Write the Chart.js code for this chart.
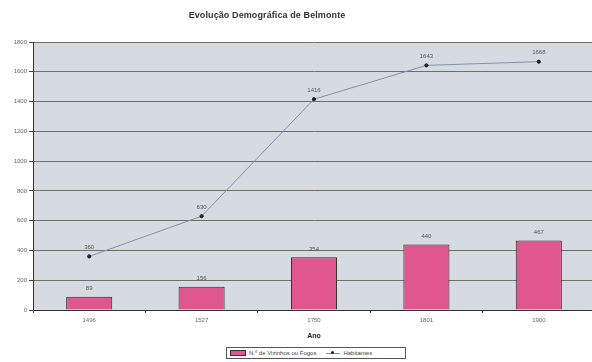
<!DOCTYPE html>
<html><head><meta charset="utf-8">
<script src="https://cdn.jsdelivr.net/npm/chart.js@4"></script>
<style>
html,body{margin:0;padding:0;background:#fff;overflow:hidden;width:592px;height:362px}
#wrap{position:relative;width:600px;height:362px}
#title{position:absolute;left:0;width:534px;top:10px;text-align:center;font:bold 9px "Liberation Sans",Arial,sans-serif;color:#333;letter-spacing:0.1px}
#legend{position:absolute;left:226px;top:347px;width:178px;height:10px;border:1px solid #555;background:#fff;font:6px "Liberation Sans",Arial,sans-serif;color:#444;display:flex;align-items:center;white-space:nowrap}
.sw{display:inline-block;width:14px;height:4px;background:#e0578f;border:1px solid #333;margin:0 3px 0 3px}
.ln{display:inline-block;position:relative;width:14px;height:1px;background:#8391a8;margin:0 3px 0 10px}
.ln:after{content:"";position:absolute;left:5px;top:-1.5px;width:3px;height:3px;background:#222;border-radius:50%}
</style></head>
<body>
<div id="wrap">
<div id="title">Evolução Demográfica de Belmonte</div>
<canvas id="c" width="600" height="362"></canvas>
<div id="legend"><span class="sw"></span><span>N.º de Vizinhos ou Fogos</span><span class="ln"></span><span>Habitantes</span></div>
</div>
<script>
const categories = ['1496', '1527', '1750', '1801', '1900'];
const fogos = [89, 156, 354, 440, 467];
const habitantes = [360, 630, 1416, 1643, 1668];
const yMax = 1800;
const yStep = 200;
const xTitle = 'Ano';
const seriesNames = ['N.º de Vizinhos ou Fogos', 'Habitantes'];

const bgPlugin = {
  id: 'bg',
  beforeDraw(chart) {
    const {ctx, chartArea: a} = chart;
    ctx.save();
    ctx.fillStyle = '#d6dbe1';
    ctx.fillRect(a.left, a.top, a.right - a.left, a.bottom - a.top);
    ctx.restore();
  }
};
const labelPlugin = {
  id: 'vlabels',
  afterDatasetsDraw(chart) {
    const ctx = chart.ctx;
    ctx.save();
    ctx.font = '6px "Liberation Sans", Arial, sans-serif';
    ctx.fillStyle = '#555';
    ctx.textAlign = 'center';
    ctx.textBaseline = 'bottom';
    chart.data.datasets.forEach((ds, i) => {
      const meta = chart.getDatasetMeta(i);
      meta.data.forEach((el, j) => {
        const off = ds.type === 'line' ? 6 : 5;
        ctx.fillText(String(ds.data[j]), el.x, el.y - off);
      });
    });
    ctx.restore();
  }
};

new Chart(document.getElementById('c'), {
  type: 'bar',
  data: {
    labels: categories,
    datasets: [
      {
        label: seriesNames[0], data: fogos, backgroundColor: '#e0578f',
        borderColor: '#2a2a2a', borderWidth: 1, barPercentage: 0.41, categoryPercentage: 1, order: 2
      },
      {
        type: 'line', label: seriesNames[1], data: habitantes, borderColor: '#8391a8',
        borderWidth: 1, pointStyle: 'circle', pointRadius: 1.6, pointBackgroundColor: '#222',
        pointBorderColor: '#222', tension: 0, fill: false, order: 1
      }
    ]
  },
  options: {
    responsive: false,
    animation: false,
    layout: {padding: {top: 42, right: 2, bottom: 18, left: 0}},
    plugins: {legend: {display: false}, tooltip: {enabled: false}, title: {display: false}},
    scales: {
      x: {
        offset: true,
        grid: {display: true, drawOnChartArea: false, offset: true, tickLength: 3, color: '#444'},
        border: {color: '#333', width: 1},
        ticks: {font: {size: 6, family: 'Liberation Sans'}, color: '#666', padding: 4},
        title: {display: true, text: xTitle, font: {size: 7, weight: 'bold', family: 'Liberation Sans'}, color: '#222', padding: {top: 0, bottom: 4}},
        afterFit(s) { s.height = 34; }
      },
      y: {
        min: 0, max: yMax,
        ticks: {stepSize: yStep, font: {size: 6, family: 'Liberation Sans'}, color: '#666', padding: 2,
                callback: v => String(v)},
        grid: {color: '#6e6e6e', lineWidth: 1, tickLength: 4, tickColor: '#444'},
        border: {color: '#333', width: 1},
        afterFit(s) { s.width = 33; }
      }
    }
  },
  plugins: [bgPlugin, labelPlugin]
});
</script>
</body></html>
